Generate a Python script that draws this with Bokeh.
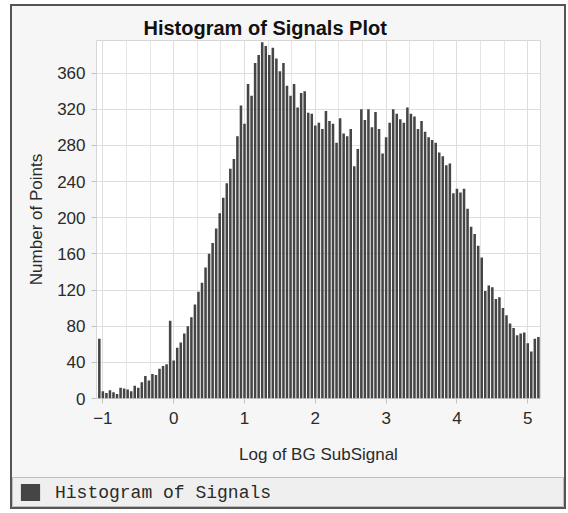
from bokeh.plotting import figure
from bokeh.layouts import column
from bokeh.models import (Legend, LegendItem, SingleIntervalTicker, Range1d,
                          ColumnDataSource)
from bokeh.embed import file_html
from bokeh.resources import INLINE

# ---- data ----
bin_start = -1.05
bin_width = 0.05
counts = [66, 8, 6, 9, 7, 5, 12, 11, 10, 8,
          14, 12, 18, 25, 20, 27, 26, 33, 36, 38,
          86, 42, 56, 62, 72, 80, 90, 104, 118, 128,
          145, 160, 172, 188, 205, 222, 238, 254, 265, 290,
          324, 304, 348, 335, 371, 380, 394, 390, 380, 388,
          376, 362, 371, 346, 335, 348, 322, 338, 340, 316,
          315, 302, 305, 298, 318, 307, 304, 283, 310, 293,
          290, 298, 257, 276, 320, 308, 320, 300, 317, 298,
          271, 289, 305, 320, 315, 309, 305, 322, 315, 312,
          298, 307, 295, 289, 286, 283, 272, 268, 258, 260,
          227, 232, 228, 232, 210, 190, 182, 169, 156, 119,
          125, 123, 110, 112, 100, 92, 83, 78, 70, 72,
          73, 61, 52, 66, 68]
centers = [bin_start + bin_width * i for i in range(len(counts))]

title_text = "Histogram of Signals Plot"
x_label = "Log of BG SubSignal"
y_label = "Number of Points"
series_name = "Histogram of Signals"

BAR_COLOR = "#454545"
PANEL = "#f6f6f6"
FONT = "Liberation Sans"

src = ColumnDataSource(dict(x=centers, top=counts))

# ---------------- main chart ----------------
p = figure(width=552, height=471, output_backend="svg", toolbar_location=None,
           x_range=Range1d(-1.09, 5.18), y_range=Range1d(0, 396),
           min_border_left=84, min_border_right=24, min_border_top=34,
           min_border_bottom=79, title=title_text)
p.frame_align = False
p.background_fill_color = "white"
p.border_fill_color = PANEL
p.outline_line_color = "#d6d6d6"

p.title.text_font = FONT
p.title.text_font_size = "20px"
p.title.text_font_style = "bold"
p.title.text_color = "#111111"
p.title.align = "left"
p.title.offset = 47
p.title.standoff = 4

r = p.vbar(x="x", top="top", bottom=0, width=0.036, source=src,
           fill_color=BAR_COLOR, line_color=None)

p.xaxis.ticker = SingleIntervalTicker(interval=1, num_minor_ticks=3)
p.yaxis.ticker = SingleIntervalTicker(interval=40, num_minor_ticks=0)
for ax in (p.xaxis[0], p.yaxis[0]):
    ax.axis_line_color = None
    ax.major_tick_line_color = "#c4c4c4"
    ax.major_tick_in = 0
    ax.major_tick_out = 5
    ax.minor_tick_line_color = None
    ax.major_label_text_font = FONT
    ax.major_label_text_font_size = "17px"
    ax.major_label_text_color = "#2a2a2a"
    ax.axis_label_text_font = FONT
    ax.axis_label_text_font_size = "17px"
    ax.axis_label_text_font_style = "normal"
    ax.axis_label_text_color = "#2a2a2a"
p.xaxis.axis_label = x_label
p.yaxis.axis_label = y_label
p.xaxis.major_label_standoff = 8
p.xaxis.axis_label_standoff = 18
p.yaxis.major_label_standoff = 6
p.yaxis.axis_label_standoff = 8

p.xgrid.grid_line_color = "#dedede"
p.xgrid.minor_grid_line_color = "#e6e6e6"
p.ygrid.grid_line_color = "#dedede"

# ---------------- legend strip ----------------
key_src = ColumnDataSource(dict(x=[5.0], top=[1.0]))  # legend key only, outside view
q = figure(width=552, height=30, output_backend="svg", toolbar_location=None,
           x_range=Range1d(0, 1), y_range=Range1d(0, 1),
           x_axis_type=None, y_axis_type=None,
           min_border_left=0, min_border_right=0, min_border_top=0,
           min_border_bottom=0)
q.frame_align = False
q.grid.visible = False
q.background_fill_color = "#efefef"
q.border_fill_color = "#efefef"
q.outline_line_color = "#bdbdbd"
key = q.vbar(x="x", top="top", width=0.1, source=key_src,
             fill_color=BAR_COLOR, line_color=None)
legend = Legend(items=[LegendItem(label=series_name, renderers=[key])],
                location="left", orientation="horizontal",
                label_text_font="Liberation Mono", label_text_font_size="18px",
                label_text_color="#2a2a2a",
                glyph_width=24, glyph_height=21, padding=0, margin=6,
                spacing=0, label_standoff=13,
                border_line_color=None, background_fill_alpha=0)
q.add_layout(legend)

layout = column(p, q, spacing=0)
layout.styles = {"border": "2px solid #555555", "margin": "4px 0px 0px 10px",
                 "background-color": PANEL}

open("out.html", "w").write(file_html(layout, INLINE))
